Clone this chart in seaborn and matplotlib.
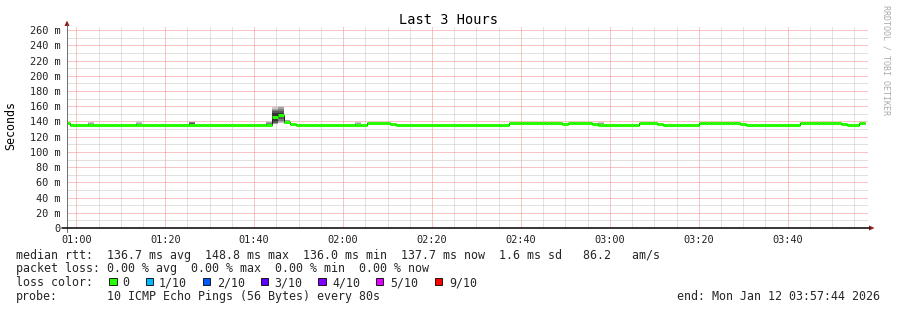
import numpy as np
import pandas as pd
import matplotlib
matplotlib.use("Agg")
import matplotlib.pyplot as plt
from matplotlib.ticker import MultipleLocator, FixedLocator, FuncFormatter
from matplotlib.lines import Line2D
from matplotlib.patches import Polygon, Rectangle
import seaborn as sns

# ---------------- data ----------------
title = "Last 3 Hours"
first_sample_start = "00:57:20"   # start of first (partially visible) 80 s interval
step_seconds = 80

# median rtt per 80 s sample (ms)
median_ms = [
    138.3,
    136.0, 136.0, 136.0, 136.0, 136.0, 136.0, 136.0, 136.0, 136.0, 136.0,
    136.0, 136.0, 136.0, 136.0, 136.0, 136.0, 136.0, 136.0, 136.0, 136.0,
    136.0, 136.0, 136.0, 136.0, 136.0, 136.0, 136.0, 136.0, 136.0, 136.0,
    136.0, 136.0, 136.0, 136.0,
    145.6, 148.8, 139.7, 137.0,
    136.0, 136.0, 136.0, 136.0, 136.0, 136.0, 136.0, 136.0, 136.0, 136.0,
    136.0, 136.0,
    138.0, 138.0, 138.0, 138.0,
    137.0,
    136.0, 136.0, 136.0, 136.0, 136.0, 136.0, 136.0, 136.0, 136.0, 136.0,
    136.0, 136.0, 136.0, 136.0, 136.0, 136.0, 136.0, 136.0, 136.0,
    138.1, 138.1, 138.1, 138.1, 138.1, 138.1, 138.1, 138.1, 138.1,
    136.6,
    138.0, 138.0, 138.0, 138.0,
    137.2,
    136.0, 136.0, 136.0, 136.0, 136.0, 136.0, 136.0,
    138.1, 138.1, 138.1,
    137.1,
    136.0, 136.0, 136.0, 136.0, 136.0, 136.0,
    138.1, 138.1, 138.1, 138.1, 138.1, 138.1, 138.1,
    137.1,
    136.0, 136.0, 136.0, 136.0, 136.0, 136.0, 136.0, 136.0, 136.0,
    138.1, 138.1, 138.1, 138.1, 138.1, 138.1, 138.1,
    137.1,
    136.0, 136.0,
    137.7,
]

# samples with visible "smoke" (sorted individual ping rtts, ms)
smoke_pos = [4, 12, 21, 34, 35, 36, 37, 49, 90]
smoke_pings = [
    [135.9, 136.0, 136.0, 136.0, 136.0, 136.1, 136.2, 136.4, 137.6, 139.0],
    [135.9, 136.0, 136.0, 136.0, 136.0, 136.1, 136.2, 136.5, 138.5, 141.0],
    [135.9, 136.0, 136.0, 136.0, 136.1, 136.3, 138.6, 138.9, 139.1, 139.3],
    [135.8, 135.9, 136.0, 136.0, 136.1, 136.2, 136.6, 137.6, 138.9, 140.5],
    [136.4, 136.9, 137.4, 138.0, 140.5, 150.7, 153.5, 155.5, 157.0, 158.5],
    [137.5, 139.0, 141.0, 143.0, 146.0, 151.6, 154.0, 156.5, 158.5, 160.0],
    [137.0, 137.5, 138.2, 138.8, 139.4, 140.0, 140.6, 141.2, 141.8, 142.5],
    [135.9, 136.0, 136.0, 136.0, 136.0, 136.1, 136.3, 136.8, 137.9, 139.2],
    [135.9, 136.0, 136.0, 136.0, 136.0, 136.1, 136.2, 136.6, 137.6, 138.8],
]

y_ticks = [0, 20, 40, 60, 80, 100, 120, 140, 160, 180, 200, 220, 240, 260]
y_minor = [10, 30, 50, 70, 90, 110, 130, 150, 170, 190, 210, 230, 250]

legend_rtt = ("median rtt:  136.7 ms avg  148.8 ms max  136.0 ms min  "
              "137.7 ms now  1.6 ms sd   86.2   am/s")
legend_loss = "packet loss: 0.00 % avg  0.00 % max  0.00 % min  0.00 % now"
loss_labels = ["0", "1/10", "2/10", "3/10", "4/10", "5/10", "9/10"]
loss_colors = ["#26ff00", "#00b8ff", "#0059ff", "#5e00ff", "#7e00ff",
               "#dd00ff", "#ff0000"]
probe_text = "10 ICMP Echo Pings (56 Bytes) every 80s"
end_text = "end: Mon Jan 12 03:57:44 2026"
watermark = "RRDTOOL / TOBI OETIKER"

# ---------------- build table ----------------
n = len(median_ms)
t0 = pd.to_timedelta(first_sample_start).total_seconds() / 60.0
step_min = step_seconds / 60.0
starts = t0 + np.arange(n) * step_min
ends = starts + step_min
df = pd.DataFrame({"t": np.append(starts, ends[-1]),
                   "ms": np.append(median_ms, median_ms[-1])})

# ---------------- figure ----------------
sns.set_style("white")
plt.rcParams["font.family"] = ["DejaVu Sans Mono"]
plt.rcParams["lines.scale_dashes"] = False
W, H = 897, 310
L, R, T, B = 67.0, 868.0, 26.0, 228.0
fig = plt.figure(figsize=(W / 100, H / 100), dpi=100, facecolor="white")
ax = fig.add_axes([L / W, 1 - B / H, (R - L) / W, (B - T) / H])
ax.set_facecolor("white")

ax.set_xlim(57.908, 238.07)
ax.set_ylim(0, 265.5)

# grid (1 px dots, 1 px gaps, aligned to pixel grid)
ax.xaxis.set_major_locator(MultipleLocator(20))
ax.xaxis.set_minor_locator(MultipleLocator(5))
ax.yaxis.set_major_locator(FixedLocator(y_ticks))
ax.yaxis.set_minor_locator(FixedLocator(y_minor))
px = 0.72
dots = (0, (0.72, 0.72))
ax.grid(which="minor", color="#c4c4c4", lw=px, ls=dots, zorder=0)
ax.grid(which="major", color="#f28a8a", lw=px, ls=dots, zorder=0.5)
ax.set_axisbelow(True)

ax.xaxis.set_major_formatter(FuncFormatter(lambda v, p: f"{int(v // 60):02d}:{int(round(v % 60)):02d}"))
ax.yaxis.set_major_formatter(FuncFormatter(lambda v, p: "0" if v == 0 else f"{int(v)} m"))
ax.tick_params(which="both", direction="out", length=2.2, width=px, color="#777777",
               labelsize=7.4, labelcolor="#222222")
ax.tick_params(axis="y", pad=2.2)
ax.tick_params(axis="x", pad=2.6)

for s in ax.spines.values():
    s.set_visible(False)

# smoke
greys = ["#cacaca", "#a4a4a4", "#7e7e7e", "#585858", "#323232"]
for pos, pings in zip(smoke_pos, smoke_pings):
    p = sorted(pings)
    for i in range(5):
        ax.fill_between([starts[pos], ends[pos]], p[i], p[9 - i],
                        color=greys[i], lw=0, zorder=2)

# thin dark median line (steps) then green loss-coloured segments
sns.lineplot(data=df, x="t", y="ms", drawstyle="steps-post", color="#202020",
             lw=px, ax=ax, zorder=3, estimator=None)
ax.hlines(median_ms, starts, ends, color=loss_colors[0], lw=2.2, zorder=4,
          capstyle="butt")
ax.set_xlabel("")
ax.set_ylabel("")


def fx(x):
    return x / W


def fy(y):
    return 1 - y / H


# axes lines with arrows
fig.add_artist(Line2D([fx(67), fx(67)], [fy(232), fy(25)], color="#707070", lw=px))
fig.add_artist(Polygon([[fx(64.5), fy(26)], [fx(69.5), fy(26)], [fx(67), fy(20.5)]],
                       closed=True, color="#8b1a1a", lw=0))
fig.add_artist(Line2D([fx(62), fx(869)], [fy(228), fy(228)], color="#000000", lw=1.1))
fig.add_artist(Polygon([[fx(869), fy(225.5)], [fx(869), fy(230.5)], [fx(874.5), fy(228)]],
                       closed=True, color="#8b1a1a", lw=0))

# titles / labels
fig.text(fx(448), fy(24), title, ha="center", va="baseline", fontsize=9.8, color="#000000")
fig.text(fx(11), fy(126), "Seconds", ha="center", va="center", rotation=90,
         fontsize=8.4, color="#000000")
fig.text(fx(886), fy(5), watermark, ha="center", va="top", rotation=270,
         fontsize=6.0, color="#aaaaaa")

# legend
fs = 8.4
fig.text(fx(16), fy(258.5), legend_rtt, ha="left", va="baseline", fontsize=fs)
fig.text(fx(16), fy(272.3), legend_loss, ha="left", va="baseline", fontsize=fs)
fig.text(fx(16), fy(286.3), "loss color:", ha="left", va="baseline", fontsize=fs)
box_x = [109.3, 145.7, 202.7, 260.7, 318.3, 376.0, 435.0]
lab_x = [122.0, 159.0, 216.7, 274.7, 332.3, 390.0, 449.0]
for bx, lx, lab, col in zip(box_x, lab_x, loss_labels, loss_colors):
    fig.add_artist(Rectangle((fx(bx), fy(285.3)), 7.3 / W, 7.3 / H, facecolor=col,
                             edgecolor="#000000", lw=0.6))
    fig.text(fx(lx), fy(286.3), lab, ha="left", va="baseline", fontsize=fs)
fig.text(fx(16), fy(300), "probe:", ha="left", va="baseline", fontsize=fs)
fig.text(fx(107.3), fy(300), probe_text, ha="left", va="baseline", fontsize=fs)
fig.text(fx(880), fy(300), end_text, ha="right", va="baseline", fontsize=fs)

fig.savefig("out.png", dpi=100, facecolor="white")
